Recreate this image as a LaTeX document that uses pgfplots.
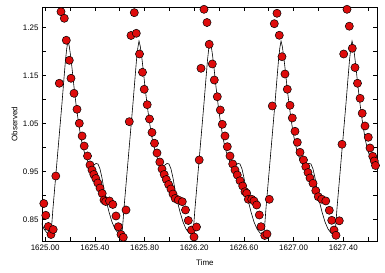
\documentclass[border=0pt]{standalone}
\usepackage{pgfplots}
\pgfplotsset{compat=1.18}
\usepackage{fontspec}
\setmainfont{Liberation Sans}
\definecolor{dotred}{RGB}{222,12,12}
\begin{document}
\begin{tikzpicture}
\begin{axis}[
  at={(0,0)}, anchor=south west,
  scale only axis, width=335.3bp, height=234bp,
  xmin=1624.9742, xmax=1627.6739, ymin=0.8056, ymax=1.2931,
  xtick={1625,1625.4,1625.8,1626.2,1626.6,1627.0,1627.4},
  minor xtick={1625.2,1625.6,1626.0,1626.4,1626.8,1627.2,1627.6},
  ytick={0.85,0.95,1.05,1.15,1.25},
  minor ytick={0.9,1.0,1.1,1.2},
  tick align=inside,
  major tick length=4bp, minor tick length=4bp,
  tick style={black, line width=0.6pt},
  axis line style={black, line width=0.8pt},
  xticklabel style={/pgf/number format/.cd, fixed, fixed zerofill, precision=2, 1000 sep={}},
  yticklabel style={/pgf/number format/.cd, fixed, fixed zerofill, precision=2},
  /pgf/number format/assume math mode=true,
  ticklabel style={font=\fontsize{8}{9}\selectfont},
  label style={font=\fontsize{8}{9}\selectfont},
  xlabel={Time}, ylabel={Observed},
  xlabel style={at={(axis description cs:0.486,-0.094)}, anchor=center},
  ylabel style={at={(axis description cs:-0.082,0.5)}, anchor=center},
  clip=true,
]
\addplot[black, line width=0.6pt, mark=none] coordinates {
(1624.9420,0.8660)(1624.9662,0.8452)(1624.9903,0.8306)(1625.0145,0.8223)(1625.0427,0.8181)(1625.0507,0.8327)(1625.0628,0.8744)(1625.0869,0.9473)(1625.1111,1.0202)(1625.1352,1.0931)(1625.1514,1.1452)(1625.1634,1.1827)(1625.1739,1.2077)
(1625.1836,1.2223)(1625.1933,1.2119)(1625.2037,1.1931)(1625.2158,1.1660)(1625.2319,1.1265)(1625.2480,1.0910)(1625.2641,1.0598)(1625.2802,1.0327)(1625.2963,1.0098)(1625.3124,0.9931)(1625.3285,0.9806)(1625.3446,0.9702)(1625.3607,0.9640)(1625.3768,0.9619)(1625.3929,0.9640)(1625.4090,0.9671)(1625.4251,0.9660)(1625.4412,0.9556)(1625.4574,0.9369)(1625.4735,0.9119)(1625.4896,0.8910)(1625.5137,0.8660)(1625.5379,0.8452)(1625.5620,0.8306)(1625.5862,0.8223)(1625.6144,0.8181)(1625.6224,0.8327)(1625.6345,0.8744)(1625.6586,0.9473)(1625.6828,1.0202)(1625.7069,1.0931)(1625.7231,1.1452)(1625.7351,1.1827)(1625.7456,1.2077)
(1625.7553,1.2223)(1625.7650,1.2119)(1625.7754,1.1931)(1625.7875,1.1660)(1625.8036,1.1265)(1625.8197,1.0910)(1625.8358,1.0598)(1625.8519,1.0327)(1625.8680,1.0098)(1625.8841,0.9931)(1625.9002,0.9806)(1625.9163,0.9702)(1625.9324,0.9640)(1625.9485,0.9619)(1625.9646,0.9640)(1625.9807,0.9671)(1625.9968,0.9660)(1626.0129,0.9556)(1626.0291,0.9369)(1626.0452,0.9119)(1626.0613,0.8910)(1626.0854,0.8660)(1626.1096,0.8452)(1626.1337,0.8306)(1626.1579,0.8223)(1626.1861,0.8181)(1626.1941,0.8327)(1626.2062,0.8744)(1626.2303,0.9473)(1626.2545,1.0202)(1626.2786,1.0931)(1626.2948,1.1452)(1626.3068,1.1827)(1626.3173,1.2077)
(1626.3270,1.2223)(1626.3367,1.2119)(1626.3471,1.1931)(1626.3592,1.1660)(1626.3753,1.1265)(1626.3914,1.0910)(1626.4075,1.0598)(1626.4236,1.0327)(1626.4397,1.0098)(1626.4558,0.9931)(1626.4719,0.9806)(1626.4880,0.9702)(1626.5041,0.9640)(1626.5202,0.9619)(1626.5363,0.9640)(1626.5524,0.9671)(1626.5685,0.9660)(1626.5846,0.9556)(1626.6008,0.9369)(1626.6169,0.9119)(1626.6330,0.8910)(1626.6571,0.8660)(1626.6813,0.8452)(1626.7054,0.8306)(1626.7296,0.8223)(1626.7578,0.8181)(1626.7658,0.8327)(1626.7779,0.8744)(1626.8020,0.9473)(1626.8262,1.0202)(1626.8503,1.0931)(1626.8665,1.1452)(1626.8785,1.1827)(1626.8890,1.2077)
(1626.8987,1.2223)(1626.9084,1.2119)(1626.9188,1.1931)(1626.9309,1.1660)(1626.9470,1.1265)(1626.9631,1.0910)(1626.9792,1.0598)(1626.9953,1.0327)(1627.0114,1.0098)(1627.0275,0.9931)(1627.0436,0.9806)(1627.0597,0.9702)(1627.0758,0.9640)(1627.0919,0.9619)(1627.1080,0.9640)(1627.1241,0.9671)(1627.1402,0.9660)(1627.1563,0.9556)(1627.1725,0.9369)(1627.1886,0.9119)(1627.2047,0.8910)(1627.2288,0.8660)(1627.2530,0.8452)(1627.2771,0.8306)(1627.3013,0.8223)(1627.3295,0.8181)(1627.3375,0.8327)(1627.3496,0.8744)(1627.3737,0.9473)(1627.3979,1.0202)(1627.4220,1.0931)(1627.4382,1.1452)(1627.4502,1.1827)(1627.4607,1.2077)
(1627.4704,1.2223)(1627.4801,1.2119)(1627.4905,1.1931)(1627.5026,1.1660)(1627.5187,1.1265)(1627.5348,1.0910)(1627.5509,1.0598)(1627.5670,1.0327)(1627.5831,1.0098)(1627.5992,0.9931)(1627.6153,0.9806)(1627.6314,0.9702)(1627.6475,0.9640)(1627.6636,0.9619)(1627.6797,0.9640)
};
\addplot[only marks, mark=*, mark size=4.1pt, mark options={fill=dotred, draw=black, line width=0.5pt}] coordinates {
(1624.9887,0.8837)(1625.0048,0.8592)(1625.0250,0.8358)(1625.0467,0.8192)(1625.0644,0.8296)(1625.0853,0.9410)(1625.1135,1.1342)(1625.1272,1.2833)(1625.1538,1.2696)(1625.1699,1.2238)(1625.1940,1.1821)(1625.2077,1.1446)(1625.2319,1.1133)(1625.2560,1.0800)(1625.2746,1.0508)(1625.2971,1.0244)(1625.3140,1.0035)(1625.3406,0.9827)(1625.3607,0.9640)(1625.3768,0.9535)(1625.3913,0.9442)(1625.4074,0.9358)(1625.4235,0.9265)(1625.4412,0.9160)(1625.4589,0.9046)(1625.4734,0.8910)(1625.4871,0.8879)(1625.5177,0.8890)(1625.5443,0.8817)(1625.5700,0.8577)(1625.5886,0.8354)(1625.6103,0.8192)(1625.6288,0.8133)(1625.6506,0.8702)
(1625.6771,1.0542)(1625.6908,1.2338)(1625.7174,1.2813)(1625.7335,1.2383)(1625.7593,1.1952)(1625.7834,1.1571)(1625.7971,1.1217)(1625.8213,1.0896)(1625.8398,1.0598)(1625.8599,1.0317)(1625.8800,1.0092)(1625.9002,0.9890)(1625.9227,0.9702)(1625.9404,0.9556)(1625.9581,0.9442)(1625.9750,0.9337)(1625.9936,0.9233)(1626.0121,0.9140)(1626.0290,0.9035)(1626.0467,0.8942)(1626.0717,0.8910)(1626.1039,0.8875)(1626.1296,0.8702)(1626.1522,0.8483)(1626.1779,0.8285)(1626.1981,0.8140)(1626.2182,0.8348)(1626.2399,0.9744)
(1626.2544,1.1654)(1626.2786,1.2883)(1626.3027,1.2608)(1626.3204,1.2154)(1626.3454,1.1744)(1626.3615,1.1410)(1626.3857,1.1062)(1626.4098,1.0785)(1626.4259,1.0487)(1626.4477,1.0244)(1626.4662,1.0021)(1626.4879,0.9827)(1626.5097,0.9660)(1626.5282,0.9535)(1626.5467,0.9431)(1626.5684,0.9312)(1626.5902,0.9202)(1626.6087,0.9083)(1626.6224,0.9050)(1626.6353,0.8925)(1626.6626,0.8925)(1626.6811,0.8890)(1626.7029,0.8806)(1626.7238,0.8598)(1626.7375,0.8354)(1626.7673,0.8171)(1626.7858,0.8202)(1626.8043,0.8925)
(1626.8285,1.0869)(1626.8446,1.2583)(1626.8663,1.2800)(1626.8848,1.2342)(1626.9066,1.1896)(1626.9307,1.1535)(1626.9492,1.1217)(1626.9710,1.0883)(1626.9895,1.0619)(1627.0113,1.0342)(1627.0298,1.0112)(1627.0515,0.9904)(1627.0797,0.9744)(1627.0982,0.9604)(1627.1159,0.9483)(1627.1320,0.9369)(1627.1562,0.9258)(1627.1787,0.9104)(1627.1988,0.8979)(1627.2262,0.8927)(1627.2592,0.8890)(1627.2874,0.8696)(1627.3068,0.8487)(1627.3253,0.8285)(1627.3414,0.8175)(1627.3680,0.8477)(1627.3897,1.0071)
(1627.4034,1.1952)(1627.4300,1.2883)(1627.4485,1.2531)(1627.4726,1.2071)(1627.4944,1.1669)(1627.5145,1.1342)(1627.5354,1.1029)(1627.5523,1.0717)(1627.5749,1.0452)(1627.6014,1.0217)(1627.6151,0.9994)(1627.6369,0.9821)(1627.6497,0.9723)(1627.6594,0.9629)
};
\end{axis}
\pgfresetboundingbox
\path[use as bounding box] (-42bp,-32bp) rectangle (343bp,241bp);
\end{tikzpicture}
\end{document}
